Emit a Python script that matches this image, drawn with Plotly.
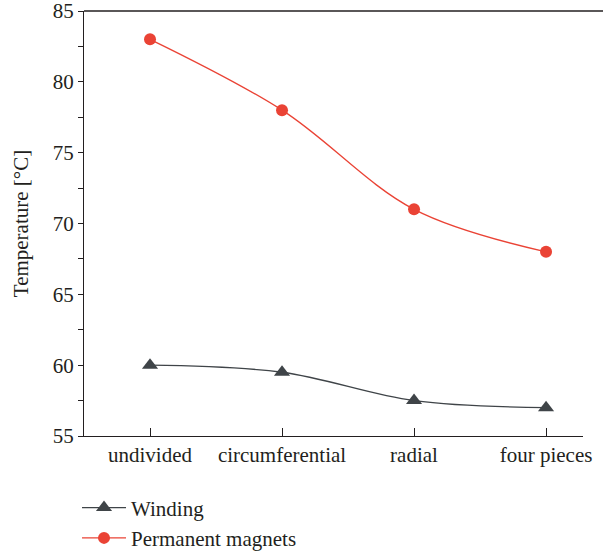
import plotly.graph_objects as go

categories = ["undivided", "circumferential", "radial", "four pieces"]
winding = [60.0, 59.5, 57.5, 57.0]
magnets = [83.0, 78.0, 71.0, 68.0]

FONT = "Liberation Serif"
DARK = "#3f4448"
RED = "#ea4335"
INK = "#231f20"

fig = go.Figure()
fig.add_trace(go.Scatter(
    x=list(range(len(categories))), y=winding, name="Winding",
    mode="lines+markers", line=dict(color=DARK, width=1.3, shape="spline", smoothing=1.0),
    marker=dict(symbol="triangle-up", size=14, color=DARK),
))
fig.add_trace(go.Scatter(
    x=list(range(len(categories))), y=magnets, name="Permanent magnets",
    mode="lines+markers", line=dict(color=RED, width=1.3, shape="spline", smoothing=1.0),
    marker=dict(symbol="circle", size=12, color=RED),
))

# top border line running to the right edge of the image
fig.add_shape(type="line", xref="paper", yref="paper", x0=0, x1=1.05, y0=1, y1=1,
              line=dict(color=INK, width=1.3))

fig.update_layout(
    width=603, height=557,
    margin=dict(l=84, r=20, t=11, b=121, autoexpand=False),
    paper_bgcolor="white", plot_bgcolor="white",
    font=dict(family=FONT, size=21, color=INK),
    showlegend=True,
    legend=dict(x=-0.014, y=-0.121, xanchor="left", yanchor="top", orientation="v",
                font=dict(family=FONT, size=21, color=INK),
                bgcolor="rgba(0,0,0,0)", tracegroupgap=2, itemwidth=44),
    xaxis=dict(
        tickmode="array", tickvals=list(range(len(categories))), ticktext=categories,
        range=[-0.5, 3.28], showgrid=False, zeroline=False, automargin=False,
        showline=True, linecolor=INK, linewidth=1.3,
        ticks="inside", ticklen=8, tickcolor=INK, tickwidth=1.2,
        tickfont=dict(family=FONT, size=21),
    ),
    yaxis=dict(
        range=[55, 85], dtick=5, tick0=55, showgrid=False, zeroline=False, automargin=False,
        showline=True, linecolor=INK, linewidth=1.3,
        ticks="outside", ticklen=5, tickcolor=INK, tickwidth=1.2,
        minor=dict(dtick=2.5, ticks="outside", ticklen=5, tickcolor=INK, tickwidth=1.2, showgrid=False),
        tickfont=dict(family=FONT, size=21), ticklabeloverflow="allow",
        title=dict(text="Temperature [°C]", font=dict(family=FONT, size=21), standoff=18),
    ),
)

fig.write_html("out.html")
